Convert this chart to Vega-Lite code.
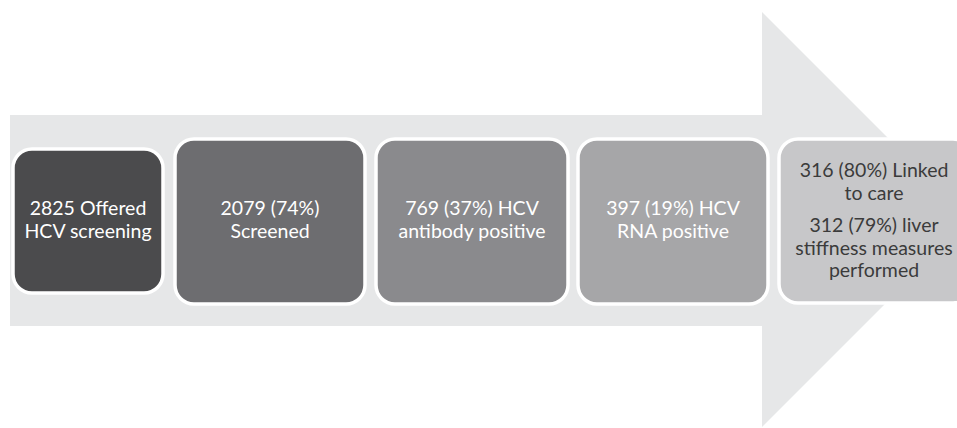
{
  "$schema": "https://vega.github.io/schema/vega-lite/v6.json",
  "width": 957,
  "height": 428,
  "padding": 0,
  "autosize": {"type": "fit", "contains": "padding"},
  "background": "white",
  "config": {"view": {"stroke": null}},
  "datasets": {
    "shaft": [{"x0": 10, "x1": 763, "y0": 115, "y1": 326}],
    "head": [
      {"x": 762, "top": 12, "bottom": 427},
      {"x": 969.5, "top": 219.5, "bottom": 219.5}
    ],
    "boxes": [
      {"stage": 1, "label": "Offered HCV screening", "n": 2825, "x0": 13, "x1": 163, "y0": 149, "y1": 293},
      {"stage": 2, "label": "Screened", "n": 2079, "x0": 175, "x1": 365, "y0": 139, "y1": 304},
      {"stage": 3, "label": "HCV antibody positive", "n": 769, "x0": 376, "x1": 568, "y0": 139, "y1": 304},
      {"stage": 4, "label": "HCV RNA positive", "n": 397, "x0": 578, "x1": 768, "y0": 139, "y1": 304},
      {"stage": 5, "label": "Linked to care", "n": 316, "x0": 779, "x1": 972, "y0": 139, "y1": 303}
    ],
    "texts": [
      {"stage": 1, "cx": 88, "cy": 209, "lines": ["2825 Offered", "HCV screening"]},
      {"stage": 2, "cx": 270, "cy": 209, "lines": ["2079 (74%)", "Screened"]},
      {"stage": 3, "cx": 472, "cy": 209, "lines": ["769 (37%) HCV", "antibody positive"]},
      {"stage": 4, "cx": 673, "cy": 209, "lines": ["397 (19%) HCV", "RNA positive"]},
      {"stage": 5, "cx": 874, "cy": 171, "lines": ["316 (80%) Linked", "to care"]},
      {"stage": 5, "cx": 874, "cy": 226, "lines": ["312 (79%) liver", "stiffness measures", "performed"]}
    ]
  },
  "layer": [
    {
      "data": {"name": "shaft"},
      "mark": {"type": "rect", "color": "#e6e7e8"},
      "encoding": {
        "x": {"field": "x0", "type": "quantitative", "scale": {"domain": [0, 957], "nice": false, "zero": false}, "axis": null},
        "x2": {"field": "x1"},
        "y": {"field": "y0", "type": "quantitative", "scale": {"domain": [428, 0], "nice": false, "zero": false}, "axis": null},
        "y2": {"field": "y1"}
      }
    },
    {
      "data": {"name": "head"},
      "mark": {"type": "area", "color": "#e6e7e8", "clip": true},
      "encoding": {
        "x": {"field": "x", "type": "quantitative"},
        "y": {"field": "top", "type": "quantitative"},
        "y2": {"field": "bottom"}
      }
    },
    {
      "data": {"name": "boxes"},
      "mark": {"type": "rect", "cornerRadius": 19, "stroke": "white", "strokeWidth": 3.5, "clip": true},
      "encoding": {
        "x": {"field": "x0", "type": "quantitative"},
        "x2": {"field": "x1"},
        "y": {"field": "y0", "type": "quantitative"},
        "y2": {"field": "y1"},
        "fill": {
          "field": "stage",
          "type": "ordinal",
          "scale": {"domain": [1, 2, 3, 4, 5], "range": ["#4b4b4d", "#6d6d70", "#8a8a8d", "#a6a6a8", "#c7c7c9"]},
          "legend": null
        }
      }
    },
    {
      "data": {"name": "texts"},
      "mark": {"type": "text", "font": "Lato", "fontSize": 19.5, "lineHeight": 22.5, "align": "center", "baseline": "middle"},
      "encoding": {
        "x": {"field": "cx", "type": "quantitative"},
        "y": {"field": "cy", "type": "quantitative"},
        "text": {"field": "lines"},
        "color": {"condition": {"test": "datum.stage == 5", "value": "#3b3b3b"}, "value": "white"}
      }
    }
  ]
}
